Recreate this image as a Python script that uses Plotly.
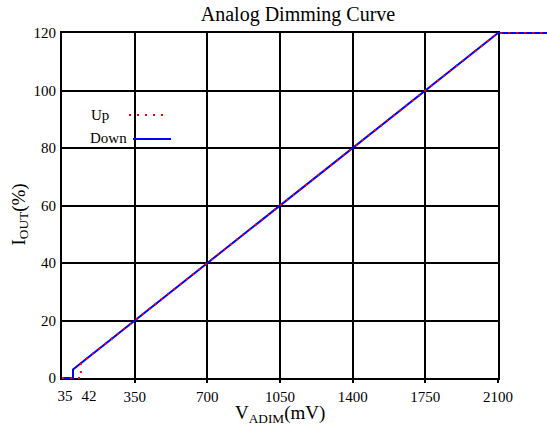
import plotly.graph_objects as go

# ---------------- data ----------------
v_down = [0, 53, 53, 2100, 2340]
i_down = [0, 0, 3.0, 120, 120]
v_up = [0, 91, 91, 2100, 2340]
i_up = [0, 0, 5.2, 120, 120]

x_ticks = [350, 700, 1050, 1400, 1750, 2100]
x_ticktext = ["350", "700", "1050", "1400", "1750", "2100"]
low_ticktext = ["35", "42"]
y_ticks = [0, 20, 40, 60, 80, 100, 120]

# ---------------- geometry ----------------
W, H = 547, 430
PL, PR, PT, PB = 62, 498, 33, 378       # main plot box (px)
ML, MR, MT, MB = 62, 0, 20, 40          # margins
pw = W - ML - MR
ph = H - MT - MB
XMAX, YMAX = 2100, 120

def px_x(px):
    return (px - ML) / pw

def px_y(py):
    return (H - MB - py) / ph

xdom = [px_x(PL), px_x(PR)]
ydom = [px_y(PB), px_y(PT)]
vpp = XMAX / (PR - PL)
ipp = YMAX / (PB - PT)
x2_range = [-(PL - ML) * vpp, (W - MR - PL) * vpp]
y2_range = [-(H - MB - PB) * ipp, YMAX + (PT - MT) * ipp]

low_tick_pos = [(65 - PL) * vpp, (89 - PL) * vpp]

SERIF = "Liberation Serif, Times New Roman, serif"

fig = go.Figure()
# empty traces so the framed subplot and the low-label axis get drawn
fig.add_trace(go.Scatter(x=[], y=[], xaxis="x", yaxis="y", showlegend=False, hoverinfo="skip"))
fig.add_trace(go.Scatter(x=[], y=[], xaxis="x3", yaxis="y3", showlegend=False, hoverinfo="skip"))
fig.add_trace(go.Scatter(x=v_down, y=i_down, mode="lines", name="Down",
                         line=dict(color="#0000ff", width=2),
                         xaxis="x2", yaxis="y2", showlegend=False))
fig.add_trace(go.Scatter(x=v_up, y=i_up, mode="lines", name="Up",
                         line=dict(color="#ff0000", width=2, dash="2px,6px"),
                         xaxis="x2", yaxis="y2", showlegend=False))

axis_common = dict(showline=True, linecolor="black", linewidth=2, mirror=True,
                   showgrid=True, gridcolor="black", gridwidth=2, zeroline=False,
                   tickfont=dict(family=SERIF, size=15, color="black"))

fig.update_layout(
    width=W, height=H,
    margin=dict(l=ML, r=MR, t=MT, b=MB, autoexpand=False),
    paper_bgcolor="white", plot_bgcolor="rgba(0,0,0,0)",
    showlegend=False,
    title=dict(text="Analog Dimming Curve", x=298 / W, xanchor="center",
               xref="container", y=1 - 14 / H, yanchor="middle", yref="container",
               font=dict(family=SERIF, size=20, color="black")),
    xaxis=dict(domain=xdom, range=[0, XMAX], tickvals=x_ticks, ticktext=x_ticktext,
               ticks="outside", ticklen=3, tickwidth=2, tickcolor="black",
               ticklabelstandoff=1, anchor="y", **axis_common),
    yaxis=dict(domain=ydom, range=[0, YMAX], tickvals=y_ticks, ticks="",
               ticklabelstandoff=1, anchor="x", **axis_common),
    xaxis3=dict(domain=xdom, range=[0, XMAX], tickvals=low_tick_pos, ticktext=low_ticktext,
                showgrid=False, zeroline=False, showline=False, ticks="",
                ticklabelstandoff=7,
                anchor="y3", tickfont=dict(family=SERIF, size=15, color="black")),
    yaxis3=dict(domain=ydom, range=[0, YMAX], visible=False, anchor="x3"),
    xaxis2=dict(domain=[0, 1], range=x2_range, visible=False, anchor="y2"),
    yaxis2=dict(domain=[0, 1], range=y2_range, visible=False, anchor="x2"),
)

# axis titles
fig.add_annotation(text="V<sub>ADIM</sub>(mV)", xref="paper", yref="paper",
                   x=px_x(280), y=px_y(414), xanchor="center", yanchor="middle",
                   showarrow=False, font=dict(family=SERIF, size=19, color="black"))
fig.add_annotation(text="I<sub>OUT</sub>(%)", xref="paper", yref="paper",
                   x=px_x(19.5), y=px_y(215), xanchor="center", yanchor="middle",
                   textangle=-90, showarrow=False,
                   font=dict(family=SERIF, size=19, color="black"))

# legend (text to the left of the key, as in the original)
fig.add_annotation(text="Up", xref="paper", yref="paper", x=px_x(89), y=px_y(115),
                   xanchor="left", yanchor="middle", showarrow=False,
                   font=dict(family=SERIF, size=15, color="black"))
fig.add_annotation(text="Down", xref="paper", yref="paper", x=px_x(88), y=px_y(138),
                   xanchor="left", yanchor="middle", showarrow=False,
                   font=dict(family=SERIF, size=15, color="black"))
fig.add_shape(type="line", xref="paper", yref="paper",
              x0=px_x(129), x1=px_x(167), y0=px_y(115), y1=px_y(115),
              line=dict(color="#ff0000", width=2, dash="2px,6px"))
fig.add_shape(type="line", xref="paper", yref="paper",
              x0=px_x(133), x1=px_x(171), y0=px_y(139), y1=px_y(139),
              line=dict(color="#0000ff", width=2))

fig.write_html("out.html", config={"displayModeBar": False},
               post_script="document.body.style.margin='0';")
